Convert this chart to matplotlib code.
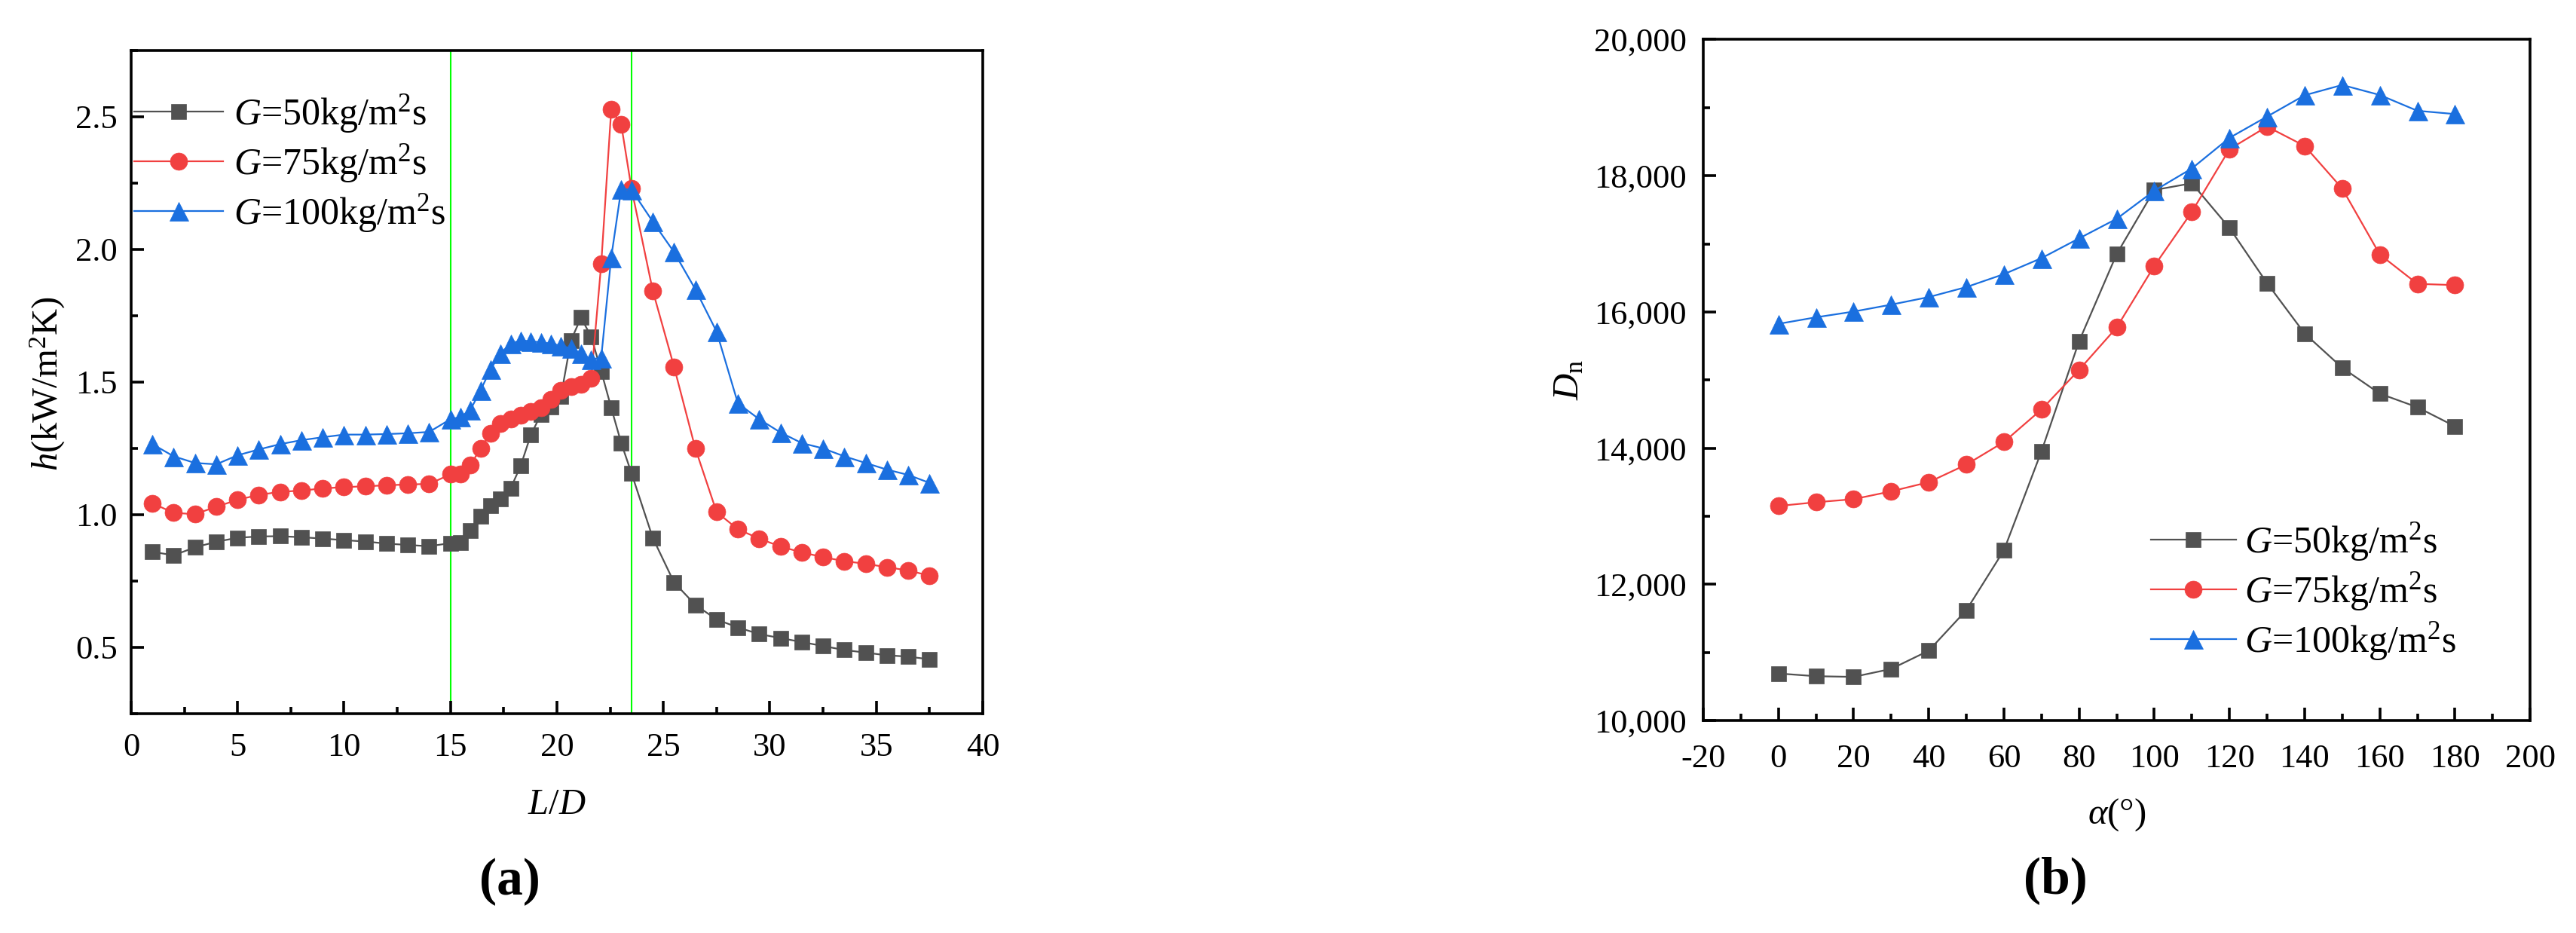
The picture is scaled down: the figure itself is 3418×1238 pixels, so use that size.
import numpy as np
import matplotlib
matplotlib.use("Agg")
import matplotlib.pyplot as plt
from matplotlib.ticker import MultipleLocator, FuncFormatter, FormatStrFormatter

plt.rcParams['font.family'] = ['Liberation Serif', 'DejaVu Serif']
plt.rcParams['mathtext.fontset'] = 'custom'
plt.rcParams['mathtext.rm'] = 'Liberation Serif'
plt.rcParams['mathtext.it'] = 'Liberation Serif:italic'
plt.rcParams['mathtext.bf'] = 'Liberation Serif:bold'
plt.rcParams['axes.unicode_minus'] = False

# ---------------- data: panel (a) ----------------
ld = [1, 2, 3, 4, 5, 6, 7, 8, 9, 10, 11, 12, 13, 14, 15,
      15.47, 15.94, 16.41, 16.88, 17.36, 17.83, 18.3, 18.77, 19.24, 19.72,
      20.19, 20.66, 21.13, 21.61, 22.08, 22.55, 23.02, 23.5,
      24.5, 25.5, 26.5, 27.5, 28.5, 29.5, 30.5, 31.5, 32.5, 33.5, 34.5, 35.5, 36.5, 37.5]
h_50 = [0.860, 0.847, 0.877, 0.898, 0.913, 0.918, 0.919, 0.915, 0.910, 0.904, 0.899, 0.891, 0.886, 0.881, 0.893,
        0.895, 0.940, 0.995, 1.035, 1.060, 1.100, 1.185, 1.300, 1.377, 1.405,
        1.447, 1.657, 1.743, 1.671, 1.541, 1.403, 1.270, 1.157,
        0.913, 0.745, 0.660, 0.605, 0.575, 0.550, 0.535, 0.520, 0.505, 0.490, 0.480, 0.470, 0.465, 0.455]
h_75 = [1.043, 1.007, 1.002, 1.030, 1.056, 1.075, 1.086, 1.091, 1.099, 1.104, 1.107, 1.111, 1.114, 1.116, 1.152,
        1.152, 1.186, 1.251, 1.307, 1.345, 1.360, 1.374, 1.388, 1.403, 1.435,
        1.469, 1.483, 1.490, 1.513, 1.945, 2.527, 2.471, 2.230,
        1.845, 1.558, 1.250, 1.010, 0.945, 0.910, 0.880, 0.858, 0.840, 0.825, 0.815, 0.802, 0.790, 0.770]
h_100 = [1.266, 1.220, 1.195, 1.190, 1.224, 1.246, 1.266, 1.281, 1.292, 1.302, 1.302, 1.304, 1.307, 1.312, 1.360,
         1.368, 1.396, 1.468, 1.548, 1.609, 1.645, 1.657, 1.654, 1.650, 1.645,
         1.637, 1.627, 1.607, 1.585, 1.592, 1.970, 2.228, 2.225,
         2.105, 1.990, 1.850, 1.690, 1.420, 1.360, 1.310, 1.270, 1.250, 1.220, 1.195, 1.170, 1.150, 1.120]
boundaries = [15, 23.5]

# ---------------- data: panel (b) ----------------
alpha = [0, 10, 20, 30, 40, 50, 60, 70, 80, 90, 100, 110, 120, 130, 140, 150, 160, 170, 180]
dn_50 = [10690, 10650, 10640, 10757, 11025, 11620, 12500, 13955, 15570, 16850,
         17790, 17890, 17234, 16423, 15683, 15180, 14800, 14600, 14320]
dn_75 = [13150, 13205, 13250, 13365, 13500, 13758, 14090, 14568, 15150, 15772,
         16675, 17470, 18390, 18722, 18438, 17812, 16843, 16412, 16394]
dn_100 = [15825, 15921, 16005, 16107, 16218, 16365, 16555, 16790, 17080, 17368,
          17780, 18107, 18556, 18869, 19182, 19333, 19186, 18954, 18906]

labels = [r'$G$=50kg/m$^2$s', r'$G$=75kg/m$^2$s', r'$G$=100kg/m$^2$s']
colors = ['#515151', '#F14040', '#1A6FDF']
markers = ['s', 'o', '^']
msizes = [15, 16.5, 18]

TICK_FS = 32
LAB_FS = 35
LEG_FS = 36

fig = plt.figure(figsize=(34.18, 12.38), dpi=100)
axa = fig.add_axes([0.0509, 0.2351, 0.3306, 0.7108])
axb = fig.add_axes([0.6612, 0.2278, 0.3210, 0.7298])


def style(ax):
    for s in ax.spines.values():
        s.set_linewidth(2.6)
    ax.tick_params(which='both', direction='in', top=False, right=False,
                   labelsize=TICK_FS, width=2.6)
    ax.tick_params(which='major', length=12)
    ax.tick_params(which='minor', length=6.5)


# ---------- panel a ----------
for xv in boundaries:
    axa.axvline(xv, color='#00FF00', lw=1.5, zorder=1)
for y, lab, c, m, ms in zip([h_50, h_75, h_100], labels, colors, markers, msizes):
    axa.plot(ld, y, color=c, lw=1.6, marker=m, ms=ms, mfc=c, mec=c, mew=0.5,
             label=lab, zorder=3)
axa.set_xlim(0, 40)
axa.set_ylim(0.25, 2.75)
axa.xaxis.set_major_locator(MultipleLocator(5))
axa.xaxis.set_minor_locator(MultipleLocator(2.5))
axa.yaxis.set_major_locator(MultipleLocator(0.5))
axa.yaxis.set_minor_locator(MultipleLocator(0.25))
axa.yaxis.set_major_formatter(FormatStrFormatter('%.1f'))
style(axa)
axa.tick_params(axis='y', pad=13)
axa.tick_params(axis='x', pad=18)
axa.set_xlabel(r'$L$/$D$', fontsize=LAB_FS)
axa.set_ylabel(r'$h$(kW/m$^2$K)', fontsize=LAB_FS)
axa.xaxis.set_label_coords(0.5, -0.1375)
axa.xaxis.label.set_va('center')
axa.yaxis.set_label_coords(-0.098, 0.497)
axa.yaxis.label.set_va('center')
axa.legend(loc='upper left', bbox_to_anchor=(0.004, 0.936), frameon=False,
           fontsize=LEG_FS, handlelength=2.36, handletextpad=0.28,
           labelspacing=0.2, borderpad=0, borderaxespad=0, numpoints=1)

# ---------- panel b ----------
for y, lab, c, m, ms in zip([dn_50, dn_75, dn_100], labels, colors, markers, msizes):
    axb.plot(alpha, y, color=c, lw=1.6, marker=m, ms=ms, mfc=c, mec=c, mew=0.5,
             label=lab, zorder=3)
axb.set_xlim(-20, 200)
axb.set_ylim(10000, 20000)
axb.xaxis.set_major_locator(MultipleLocator(20))
axb.xaxis.set_minor_locator(MultipleLocator(10))
axb.yaxis.set_major_locator(MultipleLocator(2000))
axb.yaxis.set_minor_locator(MultipleLocator(1000))
axb.yaxis.set_major_formatter(FuncFormatter(lambda v, p: f'{v:,.0f}'))
style(axb)
axb.tick_params(axis='y', pad=16)
axb.tick_params(axis='x', pad=22)
axb.set_xlabel(r'$\alpha$(°)', fontsize=LAB_FS)
axb.set_ylabel(r'$D_{\mathrm{n}}$', fontsize=LAB_FS)
axb.xaxis.set_label_coords(0.5, -0.138)
axb.xaxis.label.set_va('center')
axb.yaxis.set_label_coords(-0.162, 0.50)
axb.yaxis.label.set_va('center')
axb.legend(loc='upper left', bbox_to_anchor=(0.541, 0.293), frameon=False,
           fontsize=LEG_FS, handlelength=2.26, handletextpad=0.22,
           labelspacing=0.2, borderpad=0, borderaxespad=0, numpoints=1)

fig.text(0.198, 0.055, '(a)', fontsize=50, fontweight='bold', ha='center', va='center')
fig.text(0.798, 0.0565, '(b)', fontsize=50, fontweight='bold', ha='center', va='center')

fig.savefig('out.png', dpi=100)
